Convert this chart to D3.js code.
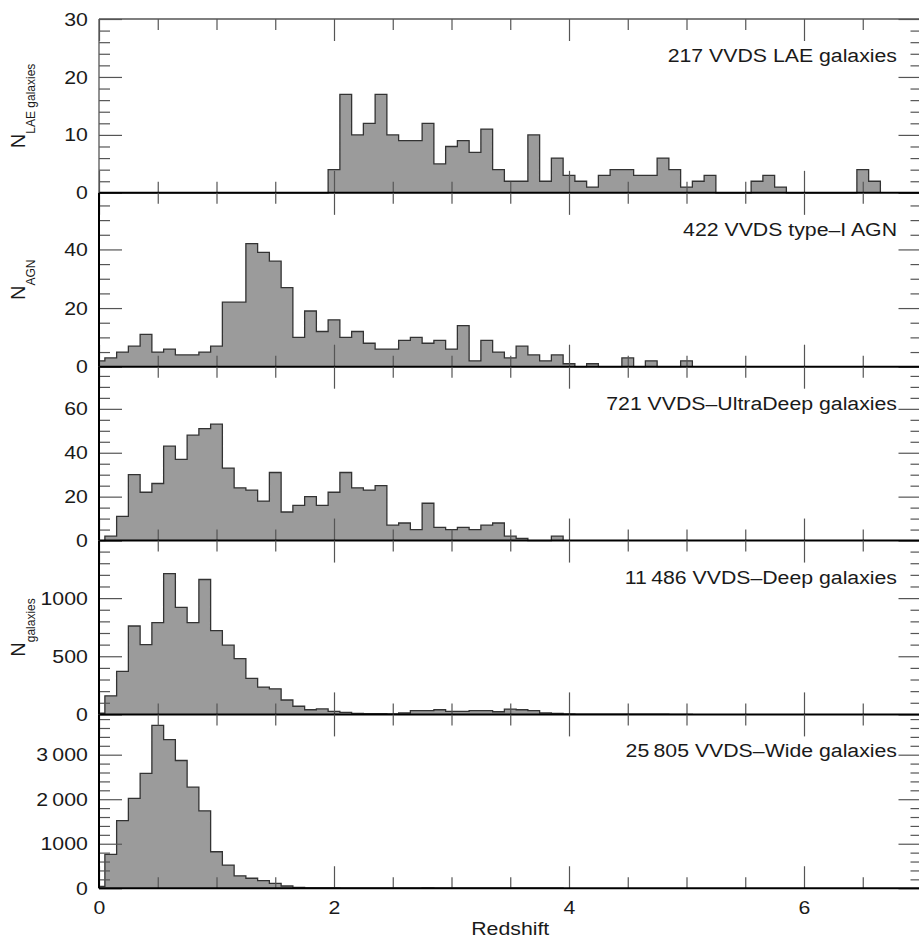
<!DOCTYPE html>
<html>
<head>
<meta charset="utf-8">
<script src="https://cdn.jsdelivr.net/npm/d3@7/dist/d3.min.js"></script>
<style>
body { margin: 0; background: #fff; }
svg text { font-family: "Liberation Sans", Arial, Helvetica, sans-serif; fill: #1a1a1a; }
</style>
</head>
<body>
<svg id="chart" width="919" height="941"></svg>
<script>
// histogram counts, one value per redshift bin, bins centred on 0.0, 0.1, 0.2 ...
var binWidth = 0.1;

var laeCounts = [0,0,0,0,0,0,0,0,0,0, 0,0,0,0,0,0,0,0,0,0,
  4,17,10,12,17,10,9,9,12,5, 8,9,7,11,4,2,2,10,2,6,
  3,2,1,3,4,4,3,3,6,4, 1,2,3,0,0,0,2,3,1,0, 0,0,0,0,0,4,2];
var agnCounts = [2,3,5,7,11,5,6,4,4,5, 7,22,22,42,39,36,27,10,19,12,
  16,10,12,8,6,6,9,10,8,9, 6,14,2,9,5,3,7,4,2,4,
  1,0,1,0,0,3,0,2,0,0, 2];
var udeepCounts = [0,2,11,30,22,26,43,37,48,51, 53,33,24,23,18,31,13,16,20,16,
  22,31,24,23,25,7,8,5,17,6, 5,6,5,7,8,2,1,0,0,2];
var deepCounts = [10,160,370,760,600,790,1210,920,790,1160, 720,595,480,310,235,220,124,70,40,47,
  26,17,9,6,6,5,12,32,32,40, 26,26,32,32,23,46,40,32,12,9,
  4,3,2,2,2,3,3,3,2,1, 1];
var wideCounts = [40,760,1520,2020,2580,3660,3340,2870,2270,1740, 820,520,280,225,170,110,50,20,10,8,
  6,5,3,2,2,2,3,4,6,5, 4,5,4,5,3,3,3,2,2,1];

var panelCounts = [laeCounts, agnCounts, udeepCounts, deepCounts, wideCounts];
var panelLabels = ["217 VVDS LAE galaxies", "422 VVDS type\u2013I AGN",
  "721 VVDS\u2013UltraDeep galaxies", "11\u2009486 VVDS\u2013Deep galaxies",
  "25\u2009805 VVDS\u2013Wide galaxies"];
var panelYMax = [30, 59.3, 79.2, 1495, 3905];
var panelMajorTicks = [[0, 10, 20, 30], [0, 20, 40], [0, 20, 40, 60], [0, 500, 1000], [0, 1000, 2000, 3000]];
var panelTickLabels = [["0", "10", "20", "30"], ["0", "20", "40"], ["0", "20", "40", "60"],
  ["0", "500", "1000"], ["0", "1000", "2\u2009000", "3\u2009000"]];
var panelMinorStep = [2, 5, 5, 100, 200];
var panelYTitles = [["N", "LAE galaxies"], ["N", "AGN"], null, ["N", "galaxies"], null];

var xDomain = [0, 7];
var xMajorTicks = [0, 2, 4, 6];
var xMinorTicks = [0.5, 1, 1.5, 2.5, 3, 3.5, 4.5, 5, 5.5, 6.5];
var xTitle = "Redshift";

var left = 99, right = 921.5, top0 = 19, panelH = 173.85;
var stretch = 1.12;   // glyphs in the figure are a bit wide
var fontSize = 19;

var svg = d3.select("#chart");
var x = d3.scaleLinear().domain(xDomain).range([left, right]);

function binSteps(counts) {
  // outline of the step histogram, starting and ending on the zero line
  var pts = [];
  counts.forEach(function (v, i) {
    var c = i * binWidth;
    var x0 = Math.max(xDomain[0], c - binWidth / 2), x1 = c + binWidth / 2;
    if (i == 0) pts.push([x0, 0]);
    pts.push([x0, v]);
    pts.push([x1, v]);
  });
  pts.push([pts[pts.length - 1][0], 0]);
  return pts;
}

function styleAxis(g) {
  g.select(".domain").remove();
  g.attr("font-family", null).attr("font-size", fontSize).attr("color", "#555");
  g.selectAll(".tick line").attr("stroke-width", 1.2);
  g.selectAll(".tick text").attr("fill", "#1a1a1a").attr("transform", "scale(" + stretch + ",1)");
}

panelCounts.forEach(function (counts, p) {
  var yTop = top0 + p * panelH, yBot = yTop + panelH;
  var y = d3.scaleLinear().domain([0, panelYMax[p]]).range([yBot, yTop]);
  var g = svg.append("g");

  var pts = binSteps(counts);
  var line = d3.line().x(function (d) { return x(d[0]); }).y(function (d) { return y(d[1]); });

  g.append("path").attr("d", line(pts) + "Z")
    .attr("fill", "#9b9b9b").attr("stroke", "none");
  g.append("path").attr("d", line(pts))
    .attr("fill", "none").attr("stroke", "#333").attr("stroke-width", 1.3)
    .attr("stroke-linejoin", "miter");

  var minor = d3.range(0, panelYMax[p], panelMinorStep[p]).filter(function (v) {
    return panelMajorTicks[p].indexOf(v) < 0;
  });
  var labels = panelTickLabels[p];
  var fmt = function (d, i) { return labels[i]; };

  // left axis, ticks pointing inwards
  g.append("g").attr("transform", "translate(" + left + ",0)")
    .call(d3.axisLeft(y).tickValues(minor).tickSize(-11).tickSizeOuter(0).tickFormat(""))
    .call(styleAxis);
  g.append("g").attr("transform", "translate(" + left + ",0)")
    .call(d3.axisLeft(y).tickValues(panelMajorTicks[p]).tickSize(-23).tickSizeOuter(0).tickPadding(10).tickFormat(fmt))
    .call(styleAxis);
  // right axis
  g.append("g").attr("transform", "translate(" + right + ",0)")
    .call(d3.axisRight(y).tickValues(minor).tickSize(-11).tickSizeOuter(0).tickFormat(""))
    .call(styleAxis);
  g.append("g").attr("transform", "translate(" + right + ",0)")
    .call(d3.axisRight(y).tickValues(panelMajorTicks[p]).tickSize(-23).tickSizeOuter(0).tickFormat(""))
    .call(styleAxis);

  // top and bottom ticks
  g.append("g").attr("transform", "translate(0," + yTop + ")")
    .call(d3.axisBottom(x).tickValues(xMinorTicks).tickSize(11).tickSizeOuter(0).tickFormat(""))
    .call(styleAxis);
  g.append("g").attr("transform", "translate(0," + yTop + ")")
    .call(d3.axisBottom(x).tickValues(xMajorTicks).tickSize(22).tickSizeOuter(0).tickFormat(""))
    .call(styleAxis);
  g.append("g").attr("transform", "translate(0," + yBot + ")")
    .call(d3.axisTop(x).tickValues(xMinorTicks).tickSize(11).tickSizeOuter(0).tickFormat(""))
    .call(styleAxis);
  g.append("g").attr("transform", "translate(0," + yBot + ")")
    .call(d3.axisTop(x).tickValues(xMajorTicks).tickSize(22).tickSizeOuter(0).tickFormat(""))
    .call(styleAxis);

  // frame: zero line and left spine
  g.append("line").attr("x1", left).attr("x2", right).attr("y1", y(0)).attr("y2", y(0))
    .attr("stroke", "#000").attr("stroke-width", 2);
  g.append("line").attr("x1", left).attr("x2", left).attr("y1", yTop).attr("y2", yBot)
    .attr("stroke", p == 0 ? "#555" : "#000").attr("stroke-width", p == 0 ? 1.3 : 2);
  if (p == 0) {
    g.append("line").attr("x1", left).attr("x2", right).attr("y1", yTop).attr("y2", yTop)
      .attr("stroke", "#555").attr("stroke-width", 1.3);
  }

  // sample label
  g.append("text")
    .attr("transform", "translate(897," + (yTop + 43) + ") scale(" + stretch + ",1)")
    .attr("text-anchor", "end").attr("font-size", fontSize)
    .text(panelLabels[p]);

  // y title with subscript
  if (panelYTitles[p]) {
    var t = g.append("text")
      .attr("transform", "translate(25," + (yTop + panelH / 2) + ") rotate(-90)")
      .attr("text-anchor", "middle").attr("font-size", 20);
    t.append("tspan").text(panelYTitles[p][0]);
    t.append("tspan").attr("font-size", 12).attr("dy", 10).text(panelYTitles[p][1]);
  }

  if (p == panelCounts.length - 1) {
    g.append("g").attr("transform", "translate(0," + yBot + ")")
      .call(d3.axisBottom(x).tickValues(xMajorTicks).tickSize(0).tickSizeOuter(0).tickPadding(12).tickFormat(d3.format("d")))
      .call(styleAxis);
    g.append("text")
      .attr("transform", "translate(" + ((left + right) / 2) + ",935) scale(" + stretch + ",1)")
      .attr("text-anchor", "middle").attr("font-size", fontSize)
      .text(xTitle);
  }
});
</script>
</body>
</html>
